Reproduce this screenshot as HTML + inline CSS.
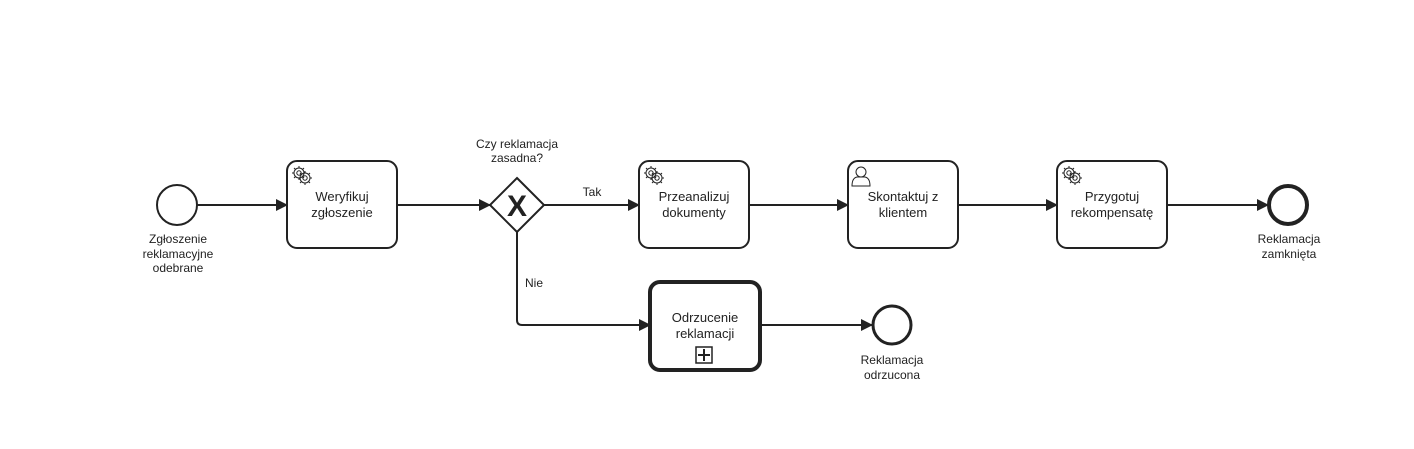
<!DOCTYPE html>
<html><head><meta charset="utf-8"><style>
body{margin:0;background:#fff}
svg{display:block}
text{font-family:"Liberation Sans",Arial,sans-serif;font-size:12px;fill:#222}
text.t{font-size:13px}
</style></head><body>
<svg width="1414" height="449" viewBox="0 0 1414 449" xmlns="http://www.w3.org/2000/svg">
<defs>
<marker id="a" markerWidth="12" markerHeight="12" refX="11" refY="6" orient="auto" markerUnits="userSpaceOnUse">
<path d="M0,0 L12,6 L0,12 Z" fill="#222"/></marker>
<g id="gear" fill="none" stroke="#222" stroke-width="1">
<circle cx="0" cy="0" r="5"/><circle cx="0" cy="0" r="2.2"/>
<path d="M0,-7V-5M0,5V7M-7,0H-5M5,0H7M-5,-5L-3.6,-3.6M5,5L3.6,3.6M-5,5L-3.6,3.6M5,-5L3.6,-3.6"/>
</g>
</defs>
<g stroke="#222" stroke-width="2" fill="none">
<circle cx="177" cy="205" r="20"/>
<line x1="197" y1="205" x2="287" y2="205" marker-end="url(#a)"/>
<rect x="287" y="161" width="110" height="87" rx="10"/>
<line x1="397" y1="205" x2="490" y2="205" marker-end="url(#a)"/>
<path d="M517,178 L544,205 L517,232 L490,205 Z"/>
<line x1="544" y1="205" x2="639" y2="205" marker-end="url(#a)"/>
<rect x="639" y="161" width="110" height="87" rx="10"/>
<line x1="749" y1="205" x2="848" y2="205" marker-end="url(#a)"/>
<rect x="848" y="161" width="110" height="87" rx="10"/>
<line x1="958" y1="205" x2="1057" y2="205" marker-end="url(#a)"/>
<rect x="1057" y="161" width="110" height="87" rx="10"/>
<line x1="1167" y1="205" x2="1268" y2="205" marker-end="url(#a)"/>
<circle cx="1288" cy="205" r="19" stroke-width="4"/>
<path d="M517,232 V320 Q517,325 522,325 H650" marker-end="url(#a)"/>
<rect x="650" y="282" width="110" height="88" rx="10" stroke-width="4"/>
<line x1="762" y1="325" x2="872" y2="325" marker-end="url(#a)"/>
<circle cx="892" cy="325" r="19" stroke-width="3"/>
<rect x="696" y="347" width="16" height="16" stroke-width="1.5"/>
<path d="M704,349V361M698,355H710" stroke-width="2"/>
</g>
<text x="517" y="216" text-anchor="middle" style="font-size:30px;font-weight:bold">X</text>
<use href="#gear" x="299" y="173"/><use href="#gear" x="305" y="178"/>
<use href="#gear" x="651" y="173"/><use href="#gear" x="657" y="178"/>
<use href="#gear" x="1069" y="173"/><use href="#gear" x="1075" y="178"/>
<g fill="none" stroke="#222" stroke-width="1">
<circle cx="861" cy="172" r="5"/>
<path d="M852,186 Q852,178 857,177 L865,177 Q870,178 870,186 Z"/>
</g>
<g text-anchor="middle">
<text class="t" x="342" y="201">Weryfikuj</text><text class="t" x="342" y="217">zgłoszenie</text>
<text class="t" x="694" y="201">Przeanalizuj</text><text class="t" x="694" y="217">dokumenty</text>
<text class="t" x="903" y="201">Skontaktuj z</text><text class="t" x="903" y="217">klientem</text>
<text class="t" x="1112" y="201">Przygotuj</text><text class="t" x="1112" y="217">rekompensatę</text>
<text class="t" x="705" y="322">Odrzucenie</text><text class="t" x="705" y="338">reklamacji</text>
<text x="178" y="243">Zgłoszenie</text><text x="178" y="258">reklamacyjne</text><text x="178" y="272">odebrane</text>
<text x="517" y="148">Czy reklamacja</text><text x="517" y="162">zasadna?</text>
<text x="1289" y="243">Reklamacja</text><text x="1289" y="258">zamknięta</text>
<text x="892" y="364">Reklamacja</text><text x="892" y="379">odrzucona</text>
<text x="592" y="196">Tak</text>
<text x="534" y="287">Nie</text>
</g>
</svg>
</body></html>
